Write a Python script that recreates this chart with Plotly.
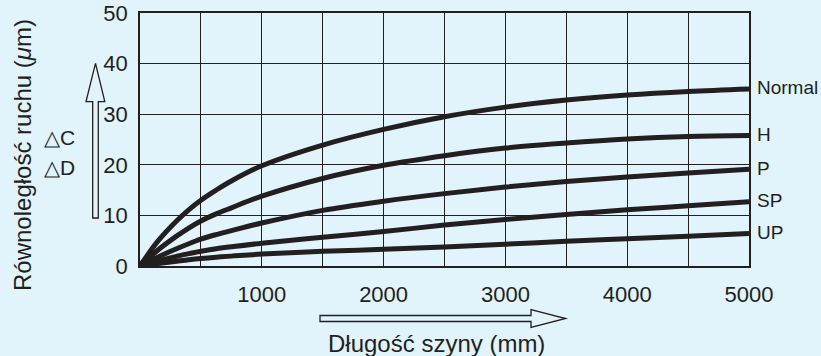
import plotly.graph_objects as go

# ---- data ----
rail_length_mm = [0, 150, 300, 400, 500, 625, 750, 1000, 1500, 2000, 2500, 3000, 3500, 4000, 4500, 5000]
normal = [0, 5.0, 8.9, 11.1, 13.0, 15.0, 16.8, 19.8, 23.9, 27.0, 29.5, 31.4, 32.8, 33.8, 34.5, 35.0]
grade_h = [0, 3.2, 5.9, 7.5, 8.9, 10.3, 11.5, 13.8, 17.3, 19.9, 21.8, 23.3, 24.3, 25.1, 25.6, 25.8]
grade_p = [0, 1.8, 3.4, 4.4, 5.3, 6.2, 7.0, 8.5, 11.0, 12.8, 14.3, 15.6, 16.7, 17.6, 18.4, 19.1]
grade_sp = [0, 1.0, 1.9, 2.45, 2.9, 3.4, 3.8, 4.5, 5.7, 6.8, 8.1, 9.2, 10.2, 11.1, 11.9, 12.7]
grade_up = [0, 0.5, 0.95, 1.25, 1.5, 1.75, 1.95, 2.35, 2.9, 3.3, 3.75, 4.3, 4.9, 5.4, 5.9, 6.4]
series_names = ["Normal", "H", "P", "SP", "UP"]
series_values = [normal, grade_h, grade_p, grade_sp, grade_up]
x_tick_vals = [1000, 2000, 3000, 4000, 5000]
y_tick_vals = [0, 10, 20, 30, 40, 50]

BG = "#e1f3fb"
INK = "#231f20"
FONT = "Liberation Sans, Arial, sans-serif"

W, H = 821, 356
L, R, T, B = 140, 72, 13, 90  # plot area margins
PW = W - L - R
PH = H - T - B


def px_path(points):
    """pixel coords -> paper coords path"""
    parts = []
    for i, (px, py) in enumerate(points):
        xp = (px - L) / PW
        yp = (H - B - py) / PH
        parts.append(("M" if i == 0 else "L") + f"{xp:.5f},{yp:.5f}")
    return " ".join(parts) + " Z"


def pxx(px):
    return (px - L) / PW


def pxy(py):
    return (H - B - py) / PH


fig = go.Figure()
for name, vals in zip(series_names, series_values):
    fig.add_trace(go.Scatter(
        x=rail_length_mm, y=vals, mode="lines", name=name,
        line=dict(color=INK, width=5, shape="spline", smoothing=1.0),
        showlegend=False, hoverinfo="skip",
    ))
    fig.add_annotation(
        x=1, xref="paper", y=vals[-1], yref="y", text=name,
        showarrow=False, xanchor="left", yanchor="middle", xshift=6, yshift=1,
        font=dict(family=FONT, size=19, color=INK),
    )

# axis titles and delta labels
fig.add_annotation(
    x=pxx(22), xref="paper", y=pxy(155), yref="paper",
    xanchor="center", yanchor="middle",
    text="Równoległość ruchu (<i>μ</i>m)", textangle=-90, showarrow=False,
    font=dict(family=FONT, size=24, color=INK),
)
fig.add_annotation(
    x=pxx(59.5), xref="paper", y=pxy(137.5), yref="paper",
    xanchor="center", yanchor="middle",
    text="△C", showarrow=False, font=dict(family=FONT, size=21, color=INK),
)
fig.add_annotation(
    x=pxx(59.5), xref="paper", y=pxy(167.5), yref="paper",
    xanchor="center", yanchor="middle",
    text="△D", showarrow=False, font=dict(family=FONT, size=21, color=INK),
)
fig.add_annotation(
    x=pxx(436), xref="paper", y=pxy(343), yref="paper",
    xanchor="center", yanchor="middle",
    text="Długość szyny (mm)", showarrow=False,
    font=dict(family=FONT, size=24, color=INK),
)

# hollow arrows
fig.add_shape(
    type="path", xref="paper", yref="paper",
    path=px_path([(92.7, 218), (92.7, 101.7), (86, 101.7), (95.5, 63.3),
                  (104.8, 101.7), (98.3, 101.7), (98.3, 218)]),
    line=dict(color=INK, width=1.3), fillcolor=BG, layer="above",
)
fig.add_shape(
    type="path", xref="paper", yref="paper",
    path=px_path([(320, 315.5), (531, 315.5), (531, 309.5), (565.6, 318.5),
                  (531, 327.5), (531, 321.5), (320, 321.5)]),
    line=dict(color=INK, width=1.3), fillcolor=BG, layer="above",
)

fig.update_xaxes(
    range=[0, 5000], tickvals=x_tick_vals, showgrid=True, gridcolor=INK, gridwidth=1.3,
    minor=dict(dtick=500, tick0=0, showgrid=True, gridcolor=INK, gridwidth=1.3),
    showline=True, linecolor=INK, linewidth=1.6, mirror=True, zeroline=False,
    ticks="", ticklabelstandoff=8,
    tickfont=dict(family=FONT, size=22, color=INK),
)
fig.update_yaxes(
    range=[0, 50], tickvals=y_tick_vals, showgrid=True, gridcolor=INK, gridwidth=1.3,
    showline=True, linecolor=INK, linewidth=1.6, mirror=True, zeroline=False,
    ticks="", ticklabelstandoff=6,
    tickfont=dict(family=FONT, size=22, color=INK),
)
fig.update_layout(
    width=W, height=H, margin=dict(l=L, r=R, t=T, b=B, autoexpand=False),
    paper_bgcolor=BG, plot_bgcolor=BG, showlegend=False,
)
fig.write_html(
    "out.html",
    config={"displayModeBar": False},
    post_script="document.body.style.margin='0';document.body.style.background='" + BG + "';",
)
